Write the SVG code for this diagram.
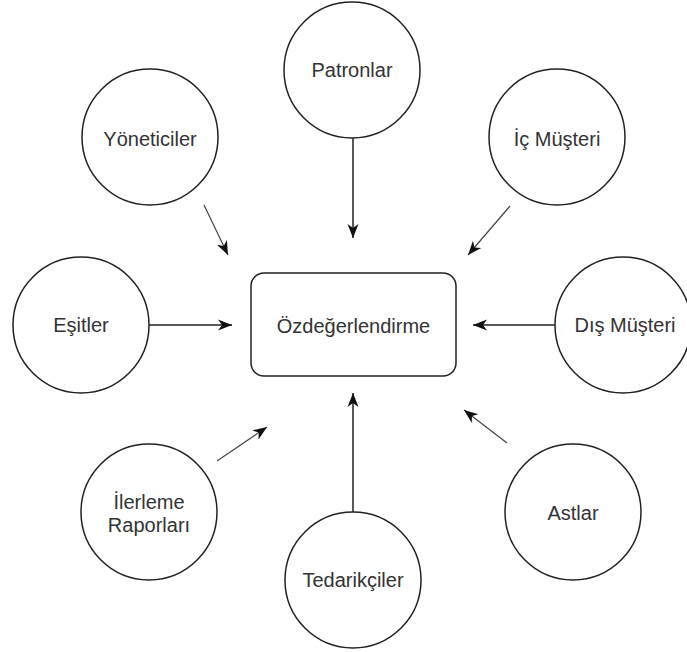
<svg xmlns="http://www.w3.org/2000/svg" width="687" height="652" viewBox="0 0 687 652">
<style>
.n{fill:#fff;stroke:#222;stroke-width:1.5}
.t{font-family:"Liberation Sans",Arial,sans-serif;font-size:20px;fill:#333;text-anchor:middle}
.c{stroke:#222;stroke-width:1.5;fill:none;marker-end:url(#ah)}
.d{stroke:#444;stroke-width:1.2}
</style>
<defs>
<marker id="ah" markerUnits="userSpaceOnUse" markerWidth="15" markerHeight="13" refX="14" refY="5.5" orient="auto" viewBox="0 0 15 11">
<path d="M0,0 L14,5.5 L0,11 L4,5.5 z" fill="#111"/>
</marker>
</defs>
<rect width="687" height="652" fill="#fff"/>
<g id="connectors">
<line class="c" x1="353" y1="137" x2="353" y2="238"/>
<line class="c d" x1="204" y1="205" x2="228" y2="255"/>
<line class="c d" x1="510" y1="206" x2="468" y2="255"/>
<line class="c" x1="149" y1="325" x2="232" y2="325"/>
<line class="c" x1="558" y1="325" x2="473" y2="325"/>
<line class="c d" x1="217" y1="461" x2="267" y2="427"/>
<line class="c d" x1="507" y1="443" x2="464" y2="410"/>
<line class="c" x1="353" y1="512" x2="353" y2="393"/>
</g>
<g id="ozdegerlendirme">
<rect class="n" x="251" y="273" width="205" height="103" rx="13"/>
<text class="t" x="353.5" y="333">Özdeğerlendirme</text>
</g>
<g id="patronlar">
<circle class="n" cx="352" cy="70" r="68"/>
<text class="t" x="352" y="77">Patronlar</text>
</g>
<g id="yoneticiler">
<circle class="n" cx="150" cy="137" r="68"/>
<text class="t" x="150" y="146">Yöneticiler</text>
</g>
<g id="ic-musteri">
<circle class="n" cx="557" cy="137" r="68"/>
<text class="t" x="557" y="146">İç Müşteri</text>
</g>
<g id="esitler">
<circle class="n" cx="81" cy="325" r="68"/>
<text class="t" x="81" y="332">Eşitler</text>
</g>
<g id="dis-musteri">
<circle class="n" cx="623" cy="325" r="68"/>
<text class="t" x="625" y="332">Dış Müşteri</text>
</g>
<g id="ilerleme-raporlari">
<circle class="n" cx="149" cy="512" r="68"/>
<text class="t" x="149" y="509">İlerleme</text>
<text class="t" x="149" y="532">Raporları</text>
</g>
<g id="astlar">
<circle class="n" cx="573" cy="512" r="68"/>
<text class="t" x="573" y="520">Astlar</text>
</g>
<g id="tedarikciler">
<circle class="n" cx="353" cy="580" r="68"/>
<text class="t" x="353" y="587">Tedarikçiler</text>
</g>
</svg>
